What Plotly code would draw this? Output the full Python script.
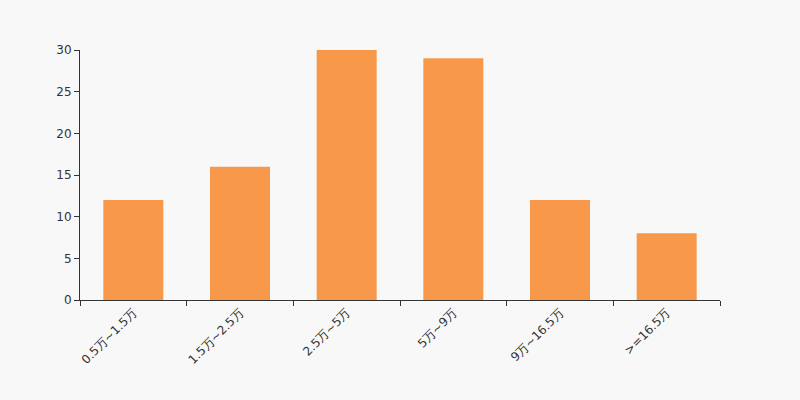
import plotly.graph_objects as go

categories = ["0.5万~1.5万", "1.5万~2.5万", "2.5万~5万", "5万~9万", "9万~16.5万", ">=16.5万"]
values = [12, 16, 30, 29, 12, 8]
y_ticks = [0, 5, 10, 15, 20, 25, 30]

fig = go.Figure(go.Bar(x=categories, y=values, marker=dict(color="#f7984a", line=dict(width=0))))

fig.update_layout(
    width=800, height=400,
    margin=dict(l=80, r=80, t=50, b=100),
    paper_bgcolor="#f8f8f8", plot_bgcolor="#f8f8f8",
    font=dict(family="DejaVu Sans", size=12, color="#333"),
    bargap=0.4375,
    showlegend=False,
)
fig.update_xaxes(
    type="category", tickangle=-45, tickson="boundaries",
    ticks="outside", ticklen=5, tickcolor="#333",
    showline=True, linecolor="#333", linewidth=1, showgrid=False,
)
fig.update_yaxes(
    range=[0, 30], tickvals=y_ticks, ticks="outside", ticklen=5, tickcolor="#333",
    showline=True, linecolor="#333", linewidth=1, showgrid=False, zeroline=False,
)
fig.write_html(
    "out.html",
    config={"displayModeBar": False},
    post_script="document.body.style.margin='0';document.body.style.background='#f8f8f8';",
)
